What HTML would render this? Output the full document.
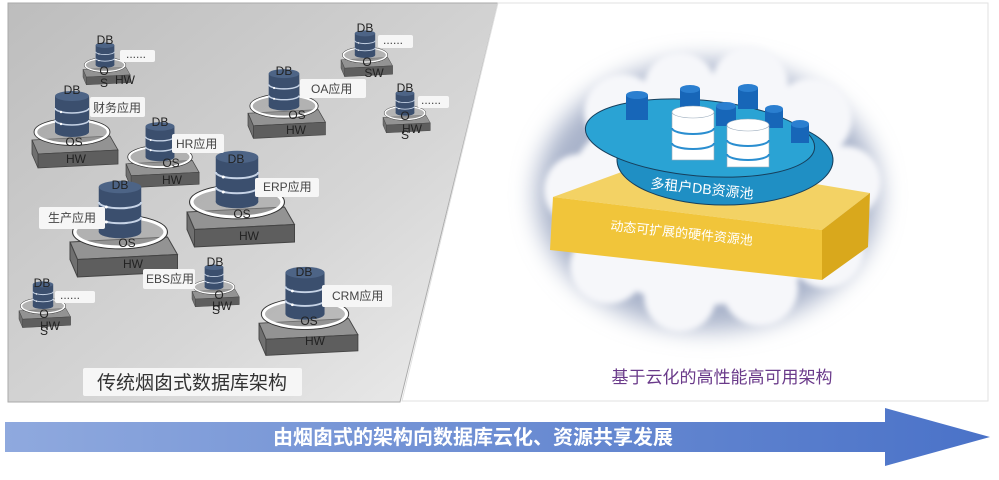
<!DOCTYPE html>
<html><head><meta charset="utf-8"><style>
html,body{margin:0;padding:0;background:#fff;}
svg{display:block;font-family:"Liberation Sans","Noto Sans CJK SC",sans-serif;}
</style></head><body>
<svg width="999" height="480" viewBox="0 0 999 480" xmlns="http://www.w3.org/2000/svg">
<defs>
<linearGradient id="lg" x1="0" y1="0" x2="1" y2="1">
<stop offset="0" stop-color="#bdbdbd"/><stop offset="0.6" stop-color="#d6d6d6"/><stop offset="1" stop-color="#ededed"/>
</linearGradient>
<linearGradient id="ar" x1="0" y1="0" x2="1" y2="0">
<stop offset="0" stop-color="#8fa9de"/><stop offset="1" stop-color="#4a72c8"/>
</linearGradient>
<filter id="bl" x="-30%" y="-30%" width="160%" height="160%"><feGaussianBlur stdDeviation="12"/></filter>
<filter id="bl2" x="-30%" y="-30%" width="160%" height="160%"><feGaussianBlur stdDeviation="3"/></filter>
<g id="stk">
<polygon points="-40,8 38,4 46,18 -34,22" fill="#939393" stroke="#444" stroke-width="0.8"/>
<polygon points="-34,22 46,18 46,32 -34,36" fill="#5e5e5e" stroke="#444" stroke-width="0.8"/>
<polygon points="-40,8 -34,22 -34,36 -40,22" fill="#707070" stroke="#444" stroke-width="0.8"/>
<ellipse cx="0" cy="0" rx="36" ry="12" fill="rgba(150,150,150,0.5)" stroke="#fff" stroke-width="2.5"/>
<ellipse cx="0" cy="0" rx="38" ry="13.5" fill="none" stroke="#333" stroke-width="0.8"/>
<rect x="-17" y="-36" width="34" height="36" fill="#3b4f6e"/>
<ellipse cx="0" cy="0" rx="17" ry="5" fill="#3b4f6e"/>
<path d="M-17,-24 A17,5 0 0 0 17,-24 M-17,-12 A17,5 0 0 0 17,-12" stroke="#c6d3e6" stroke-width="1.6" fill="none"/>
<ellipse cx="0" cy="-36" rx="17" ry="5" fill="#4d6486"/>
<circle cx="-11" cy="-20" r="1.2" fill="#fff"/><circle cx="-11" cy="-8" r="1.2" fill="#fff"/>
</g>
</defs>
<rect width="999" height="480" fill="#fff"/>
<polygon points="8,3 498,3 400,402 8,402" fill="url(#lg)" stroke="#aaa" stroke-width="1"/>
<polygon points="498,3 988,3 988,401 402,401" fill="#fff" stroke="#e2e2e2" stroke-width="1"/>

<use href="#stk" transform="translate(105,65) scale(0.55)"/>
<use href="#stk" transform="translate(72,132) scale(1)"/>
<use href="#stk" transform="translate(160,157) scale(0.85)"/>
<use href="#stk" transform="translate(120,232) scale(1.25)"/>
<use href="#stk" transform="translate(237,202) scale(1.25)"/>
<use href="#stk" transform="translate(284,106) scale(0.9)"/>
<use href="#stk" transform="translate(365,55) scale(0.6)"/>
<use href="#stk" transform="translate(405,113) scale(0.55)"/>
<use href="#stk" transform="translate(214,287) scale(0.55)"/>
<use href="#stk" transform="translate(305,314) scale(1.15)"/>
<use href="#stk" transform="translate(43,306) scale(0.6)"/>

<g font-size="12" fill="#222" text-anchor="middle">
<text x="105" y="44">DB</text><text x="104" y="75">O</text><text x="104" y="87">S</text><text x="125" y="84">HW</text>
<text x="72" y="94">DB</text><text x="74" y="146">OS</text><text x="76" y="163">HW</text>
<text x="160" y="126">DB</text><text x="171" y="167">OS</text><text x="172" y="184">HW</text>
<text x="120" y="189">DB</text><text x="127" y="247">OS</text><text x="133" y="268">HW</text>
<text x="236" y="163">DB</text><text x="242" y="218">OS</text><text x="249" y="240">HW</text>
<text x="284" y="75">DB</text><text x="297" y="119">OS</text><text x="296" y="134">HW</text>
<text x="365" y="32">DB</text><text x="367" y="66">O</text><text x="374" y="77">SW</text>
<text x="405" y="92">DB</text><text x="405" y="120">O</text><text x="412" y="133">HW</text><text x="405" y="139">S</text>
<text x="215" y="266">DB</text><text x="219" y="299">O</text><text x="222" y="310">HW</text><text x="216" y="314">S</text>
<text x="304" y="276">DB</text><text x="309" y="325">OS</text><text x="315" y="345">HW</text>
<text x="42" y="287">DB</text><text x="44" y="318">O</text><text x="50" y="330">HW</text><text x="44" y="335">S</text>
</g>

<g font-size="12" fill="#444">
<rect x="120" y="50" width="35" height="12" rx="2" fill="#f6f6f6"/><text x="126" y="58">......</text>
<rect x="90" y="97" width="55" height="20" rx="2" fill="#f6f6f6"/><text x="93" y="112">财务应用</text>
<rect x="172" y="134" width="52" height="19" rx="2" fill="#f6f6f6"/><text x="176" y="148">HR应用</text>
<rect x="39" y="207" width="66" height="22" rx="2" fill="#f6f6f6"/><text x="48" y="222">生产应用</text>
<rect x="255" y="178" width="64" height="19" rx="2" fill="#f6f6f6"/><text x="263" y="191">ERP应用</text>
<rect x="300" y="79" width="66" height="19" rx="2" fill="#f6f6f6"/><text x="311" y="93">OA应用</text>
<rect x="378" y="35" width="35" height="13" rx="2" fill="#f6f6f6"/><text x="383" y="44">......</text>
<rect x="418" y="96" width="31" height="12" rx="2" fill="#f6f6f6"/><text x="421" y="104">......</text>
<rect x="143" y="269" width="52" height="20" rx="2" fill="#f6f6f6"/><text x="146" y="283">EBS应用</text>
<rect x="322" y="285" width="70" height="22" rx="2" fill="#f6f6f6"/><text x="332" y="300">CRM应用</text>
<rect x="55" y="291" width="40" height="12" rx="2" fill="#f6f6f6"/><text x="60" y="299">......</text>
</g>
<rect x="83" y="368" width="219" height="28" rx="2" fill="#f6f6f6"/>
<text x="192" y="389" font-size="19" text-anchor="middle" fill="#333">传统烟囱式数据库架构</text>

<g filter="url(#bl)">
<ellipse cx="708" cy="195" rx="172" ry="135" fill="#a9b3ca"/>
</g>
<g filter="url(#bl2)" fill="#f6f7fa">
<ellipse cx="705" cy="200" rx="140" ry="105"/>
<circle cx="622" cy="112" r="38"/><circle cx="680" cy="88" r="36"/><circle cx="750" cy="84" r="38"/>
<circle cx="812" cy="118" r="40"/><circle cx="845" cy="182" r="36"/><circle cx="826" cy="250" r="38"/>
<circle cx="760" cy="288" r="38"/><circle cx="680" cy="296" r="36"/><circle cx="608" cy="266" r="38"/>
<circle cx="580" cy="190" r="36"/>
</g>
<polygon points="553,197 660,158 870,193 822,230" fill="#f3d264"/>
<polygon points="553,197 822,230 822,280 550,250" fill="#f1c53a"/>
<polygon points="822,230 870,193 868,247 822,280" fill="#d9a81c"/>
<text x="610" y="230" font-size="13" fill="#fff" transform="rotate(6 610 230)">动态可扩展的硬件资源池</text>
<ellipse cx="725" cy="160" rx="108" ry="45" fill="#1f8fc4" stroke="#173f5c" stroke-width="1"/>
<ellipse cx="700" cy="138" rx="115" ry="38" fill="#2aa3d4" stroke="#173f5c" stroke-width="1" transform="rotate(5 700 138)"/>
<text x="650" y="188" font-size="14" fill="#fff" transform="rotate(6 650 188)">多租户DB资源池</text>
<g fill="#1766b8">
<rect x="626" y="95" width="22" height="25"/><ellipse cx="637" cy="95" rx="11" ry="4" fill="#2b7fd0"/>
<rect x="680" y="89" width="20" height="22"/><ellipse cx="690" cy="89" rx="10" ry="4" fill="#2b7fd0"/>
<rect x="738" y="88" width="20" height="21"/><ellipse cx="748" cy="88" rx="10" ry="4" fill="#2b7fd0"/>
<rect x="716" y="106" width="20" height="20"/><ellipse cx="726" cy="106" rx="10" ry="4" fill="#2b7fd0"/>
<rect x="765" y="109" width="18" height="19"/><ellipse cx="774" cy="109" rx="9" ry="4" fill="#2b7fd0"/>
<rect x="791" y="124" width="18" height="19"/><ellipse cx="800" cy="124" rx="9" ry="4" fill="#2b7fd0"/>
</g>
<g fill="#fff" stroke="#9ab" stroke-width="0.6">
<rect x="672" y="112" width="42" height="48"/><ellipse cx="693" cy="112" rx="21" ry="6"/>
<rect x="727" y="125" width="42" height="42"/><ellipse cx="748" cy="125" rx="21" ry="6"/>
</g>
<g stroke="#2a8ed0" stroke-width="2" fill="none">
<path d="M672,128 A21,6 0 0 0 714,128 M672,143 A21,6 0 0 0 714,143"/>
<path d="M727,140 A21,6 0 0 0 769,140 M727,154 A21,6 0 0 0 769,154"/>
</g>
<text x="722" y="383" font-size="17" text-anchor="middle" fill="#6a3a8a">基于云化的高性能高可用架构</text>

<polygon points="5,422 885,422 885,408 990,437 885,466 885,452 5,452" fill="url(#ar)"/>
<text x="473" y="444" font-size="20" font-weight="bold" text-anchor="middle" fill="#fff">由烟囱式的架构向数据库云化、资源共享发展</text>
</svg>
</body></html>
